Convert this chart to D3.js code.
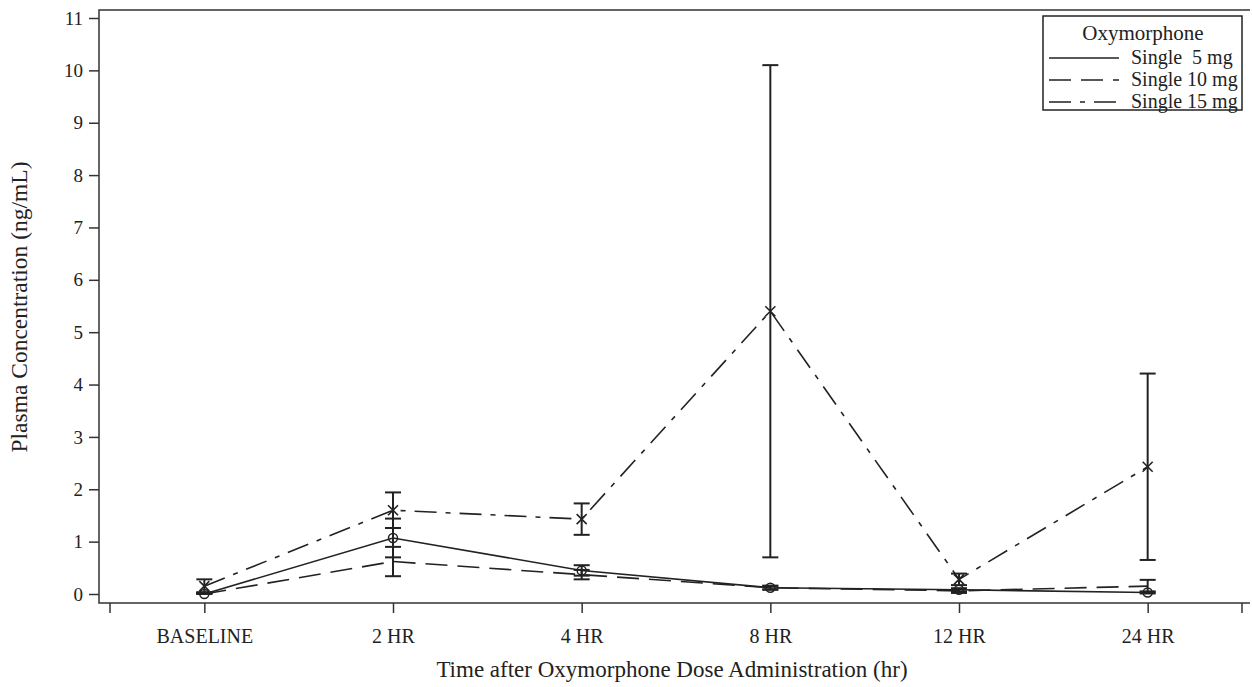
<!DOCTYPE html>
<html>
<head>
<meta charset="utf-8">
<script src="https://cdn.jsdelivr.net/npm/d3@7"></script>
<style>
  body { margin: 0; background: #fff; }
  svg text { font-family: "Times New Roman", "Liberation Serif", "DejaVu Serif", serif; fill: #222; }
</style>
</head>
<body>
<svg id="chart"></svg>
<script>
const categories = ['BASELINE', '2 HR', '4 HR', '8 HR', '12 HR', '24 HR'];
const yTicks = [0, 1, 2, 3, 4, 5, 6, 7, 8, 9, 10, 11];

// mean and error (+/-) per dose
const mean5 = [0.00, 1.07, 0.45, 0.12, 0.08, 0.03];
const err5 = [0.03, 0.37, 0.10, 0.03, 0.03, 0.02];
const mean10 = [0.00, 0.62, 0.37, 0.12, 0.06, 0.15];
const err10 = [0.03, 0.28, 0.09, 0.04, 0.04, 0.12];
const mean15 = [0.15, 1.60, 1.43, 5.40, 0.28, 2.43];
const err15 = [0.13, 0.34, 0.30, 4.70, 0.11, 1.78];

const seriesNames = ['Single  5 mg', 'Single 10 mg', 'Single 15 mg'];
const dashes = [null, '22,10', '22,9,5,9'];
const markers = ['circle', 'none', 'cross'];

const width = 1252, height = 687;
const frameLeft = 99, frameRight = 1250, frameTop = 10, frameBottom = 603;

const svg = d3.select('#chart')
    .attr('width', width)
    .attr('height', height);

const x = d3.scalePoint()
    .domain(categories)
    .range([110, 1242])
    .padding(0.5);

const y = d3.scaleLinear()
    .domain([0, 11])
    .range([594, 18]);

// frame
svg.append('path')
    .attr('d', `M${frameRight},${frameTop}H${frameLeft}V${frameBottom}H${frameRight}`)
    .attr('fill', 'none')
    .attr('stroke', '#333')
    .attr('stroke-width', 1.5);

const xAxis = svg.append('g')
    .attr('transform', `translate(0,${frameBottom})`)
    .call(d3.axisBottom(x).tickSizeInner(10).tickSizeOuter(10).tickPadding(16));
xAxis.attr('font-family', null);
xAxis.select('.domain').remove();
xAxis.selectAll('line').attr('stroke', '#333').attr('stroke-width', 1.5);
xAxis.selectAll('text').attr('font-size', 20).attr('fill', '#222');

// outer end ticks
svg.selectAll('.endtick')
    .data(x.range())
    .enter()
    .append('line')
    .attr('x1', d => d).attr('x2', d => d)
    .attr('y1', frameBottom).attr('y2', frameBottom + 10)
    .attr('stroke', '#333').attr('stroke-width', 1.5);

const yAxis = svg.append('g')
    .attr('transform', `translate(${frameLeft},0)`)
    .call(d3.axisLeft(y).tickValues(yTicks).tickSize(10).tickPadding(6));
yAxis.attr('font-family', null);
yAxis.select('.domain').remove();
yAxis.selectAll('line').attr('stroke', '#333').attr('stroke-width', 1.5);
yAxis.selectAll('text').attr('font-size', 19).attr('fill', '#222');

svg.append('text')
    .attr('x', 672)
    .attr('y', 677)
    .attr('text-anchor', 'middle')
    .attr('font-size', 23)
    .text('Time after Oxymorphone Dose Administration (hr)');

svg.append('text')
    .attr('transform', 'translate(27,307) rotate(-90)')
    .attr('text-anchor', 'middle')
    .attr('font-size', 23.5)
    .text('Plasma Concentration (ng/mL)');

const series = [
    { means: mean5, errs: err5 },
    { means: mean10, errs: err10 },
    { means: mean15, errs: err15 }
];

const line = d3.line()
    .x((d, i) => x(categories[i]))
    .y(d => y(d));

series.forEach((s, k) => {
    const g = svg.append('g');

    g.append('path')
        .attr('d', line(s.means))
        .attr('fill', 'none')
        .attr('stroke', '#222')
        .attr('stroke-width', 1.6)
        .attr('stroke-dasharray', dashes[k]);

    const bars = g.selectAll('.bar')
        .data(s.means)
        .enter()
        .append('g')
        .attr('transform', (d, i) => `translate(${x(categories[i])},0)`);

    bars.append('line')
        .attr('y1', (d, i) => y(d + s.errs[i]))
        .attr('y2', (d, i) => y(Math.max(0, d - s.errs[i])))
        .attr('stroke', '#222')
        .attr('stroke-width', 2);
    bars.append('line')
        .attr('x1', -8).attr('x2', 8)
        .attr('y1', (d, i) => y(d + s.errs[i]))
        .attr('y2', (d, i) => y(d + s.errs[i]))
        .attr('stroke', '#222').attr('stroke-width', 2);
    bars.append('line')
        .attr('x1', -8).attr('x2', 8)
        .attr('y1', (d, i) => y(Math.max(0, d - s.errs[i])))
        .attr('y2', (d, i) => y(Math.max(0, d - s.errs[i])))
        .attr('stroke', '#222').attr('stroke-width', 2);

    if (markers[k] === 'circle') {
        bars.append('circle')
            .attr('cy', d => y(d))
            .attr('r', 4.5)
            .attr('fill', 'none')
            .attr('stroke', '#222')
            .attr('stroke-width', 1.5);
    } else if (markers[k] === 'cross') {
        bars.append('path')
            .attr('d', d => `M-5,${y(d) - 5}L5,${y(d) + 5}M-5,${y(d) + 5}L5,${y(d) - 5}`)
            .attr('stroke', '#222')
            .attr('stroke-width', 1.6);
    }
});

// legend
const legend = svg.append('g').attr('transform', 'translate(1043,16)');
legend.append('rect')
    .attr('width', 199).attr('height', 94)
    .attr('fill', '#fff')
    .attr('stroke', '#222')
    .attr('stroke-width', 1.5);
legend.append('text')
    .attr('x', 100).attr('y', 24)
    .attr('text-anchor', 'middle')
    .attr('font-size', 21)
    .text('Oxymorphone');
seriesNames.forEach((name, k) => {
    const ly = 42 + k * 22;
    legend.append('line')
        .attr('x1', 6).attr('x2', 76)
        .attr('y1', ly).attr('y2', ly)
        .attr('stroke', '#222')
        .attr('stroke-width', 1.6)
        .attr('stroke-dasharray', dashes[k]);
    legend.append('text')
        .attr('x', 88).attr('y', ly + 6)
        .attr('font-size', 20)
        .style('white-space', 'pre')
        .text(name);
});
</script>
</body>
</html>
